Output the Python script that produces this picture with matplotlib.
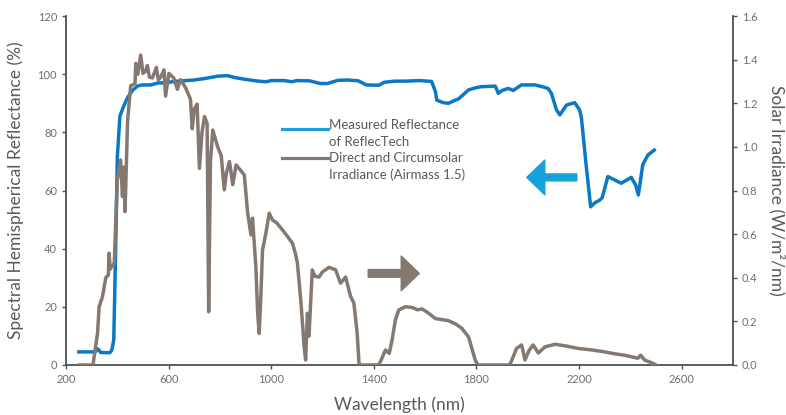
import matplotlib.pyplot as plt
from matplotlib.lines import Line2D

# Measured reflectance of ReflecTech (%)
refl_nm = [250, 300, 315, 325, 335, 370, 378, 386, 390, 395, 400, 410, 425, 440, 460,
           480, 498, 530, 560, 588, 620, 700, 740, 790, 829, 860, 900, 950, 980, 1000,
           1050, 1080, 1100, 1150, 1190, 1220, 1260, 1300, 1340, 1370, 1420, 1440, 1480,
           1520, 1580, 1625, 1640, 1645, 1670, 1691, 1710, 1730, 1769, 1800, 1819, 1873,
           1880, 1885, 1900, 1924, 1943, 1975, 2028, 2060, 2079, 2092, 2112, 2125, 2151,
           2183, 2202, 2209, 2228, 2245, 2262, 2280, 2290, 2312, 2364, 2403, 2420, 2431,
           2448, 2468, 2493]
refl_pct = [4.5, 4.5, 4.6, 5.5, 4.3, 4.2, 5.0, 8.6, 25, 47, 71.5, 85.6, 89, 92, 94.5,
            96, 96.3, 96.3, 97, 97, 97.5, 98, 98.5, 99.3, 99.5, 98.8, 98.2, 97.6, 97.4, 97.8,
            97.8, 97.4, 97.8, 97.7, 96.8, 96.8, 97.9, 98, 97.7, 96.3, 96.2, 97.2, 97.6,
            97.6, 97.8, 97.5, 94, 91.1, 90.2, 90, 90.8, 91.5, 94.6, 95.4, 95.7, 95.9,
            94.5, 93.4, 94.4, 95.1, 94.4, 96.3, 96.3, 95.6, 95.1, 93.4, 87.7, 86, 89.4,
            90.2, 87.7, 85, 68.2, 54.4, 55.8, 56.7, 57.5, 64.8, 62.5, 64.5, 62, 58.5,
            68.8, 72.2, 73.9]

# Direct and circumsolar irradiance, AM1.5 (W/m2/nm)
irr_nm = [250, 300, 305, 323, 329, 342, 355, 365, 368, 372, 388, 400, 413, 420, 425,
          430, 440, 452, 469, 472, 480, 491, 500, 510, 517, 525, 537, 552, 560, 569,
          582, 588, 601, 620, 634, 647, 666, 685, 692, 700, 711, 720, 730, 740, 750,
          756, 763, 772, 791, 805, 817, 825, 837, 850, 863, 880, 895, 908, 921, 927,
          940, 947, 953, 960, 966, 979, 992, 1005, 1020, 1044, 1065, 1083, 1095, 1102,
          1115, 1122, 1128, 1134, 1141, 1147, 1160, 1170, 1186, 1200, 1225, 1251, 1270,
          1290, 1309, 1322, 1335, 1342, 1348, 1419, 1430, 1445, 1460, 1471, 1484, 1497,
          1523, 1549, 1570, 1588, 1610, 1640, 1691, 1720, 1743, 1769, 1795, 1805, 1930,
          1956, 1976, 1989, 2005, 2021, 2041, 2067, 2106, 2150, 2196, 2250, 2300, 2340,
          2377, 2429, 2440, 2455, 2487, 2500]
irr_val = [0, 0, 0, 0.147, 0.267, 0.313, 0.40, 0.413, 0.513, 0.44, 0.467, 0.848, 0.94, 0.773, 0.907,
           0.703, 1.12, 1.28, 1.29, 1.383, 1.333, 1.421, 1.337, 1.347, 1.373, 1.32, 1.316, 1.364, 1.307, 1.32,
           1.353, 1.233, 1.337, 1.316, 1.264, 1.308, 1.271, 1.219, 1.083, 1.173, 1.196, 0.901, 1.067, 1.139, 1.107,
           0.244, 0.933, 1.077, 1.0, 0.96, 0.803, 0.88, 0.933, 0.827, 0.917, 0.893, 0.871, 0.696, 0.596, 0.673,
           0.451, 0.237, 0.145, 0.333, 0.527, 0.604, 0.696, 0.664, 0.653, 0.619, 0.587, 0.557, 0.507, 0.467,
           0.297, 0.187, 0.084, 0.023, 0.237, 0.132, 0.436, 0.407, 0.403, 0.427, 0.448, 0.436, 0.375,
           0.403, 0.315, 0.284, 0.145, 0.008, 0, 0, 0.027, 0.069, 0.053, 0.115, 0.207, 0.252,
           0.267, 0.264, 0.253, 0.257, 0.24, 0.213, 0.203, 0.187, 0.168, 0.129, 0.023, 0, 0,
           0.076, 0.092, 0.023, 0.067, 0.092, 0.055, 0.083, 0.095, 0.087, 0.076, 0.069, 0.06, 0.051,
           0.045, 0.031, 0.045, 0.023, 0.008, 0]

x_ticks = [200, 600, 1000, 1400, 1800, 2200, 2600]
left_ticks = [0, 20, 40, 60, 80, 100, 120]
right_ticks = [0.0, 0.2, 0.4, 0.6, 0.8, 1.0, 1.2, 1.4, 1.6]

blue = '#0a78c6'
brown = '#857870'
spine_col = '#4d5256'
tick_col = '#6d6e71'
label_col = '#58595b'

plt.rcParams['font.family'] = ['Lato', 'DejaVu Sans']

fig, ax = plt.subplots(figsize=(7.86, 4.15), dpi=100)
fig.subplots_adjust(left=0.084, right=0.9326, bottom=0.1205, top=0.9614)
ax2 = ax.twinx()

ax.plot(refl_nm, refl_pct, color=blue, lw=2.5, solid_joinstyle='round')
ax2.plot(irr_nm, irr_val, color=brown, lw=2.5, solid_joinstyle='round')

ax.set_xlim(200, 2800)
ax.set_ylim(0, 120)
ax2.set_ylim(0, 1.6)
ax.set_xticks(x_ticks)
ax.set_yticks(left_ticks)
ax2.set_yticks(right_ticks)
ax2.set_yticklabels([f'{v:.1f}' for v in right_ticks])

for a in (ax, ax2):
    a.spines['top'].set_visible(False)
    for s in ('left', 'right', 'bottom'):
        a.spines[s].set_color(spine_col)
        a.spines[s].set_linewidth(1.3)
    a.tick_params(colors=spine_col, labelcolor=tick_col, labelsize=8, length=3, width=1)
ax.spines['right'].set_visible(False)
ax2.spines['left'].set_visible(False)
ax2.spines['bottom'].set_visible(False)

ax.set_xlabel('Wavelength (nm)', fontsize=12.5, color=label_col, labelpad=8)
ax.set_ylabel('Spectral Hemispherical Reflectance (%)', fontsize=12.5, color=label_col, labelpad=10)
ax2.set_ylabel('Solar Irradiance (W/m²/nm)', fontsize=12.5, color=label_col,
               rotation=270, labelpad=20)

# legend drawn by hand
ax.add_line(Line2D([0.324, 0.393], [0.676, 0.676], transform=ax.transAxes, color='#1e9fdc', lw=2.3))
ax.add_line(Line2D([0.324, 0.393], [0.594, 0.594], transform=ax.transAxes, color=brown, lw=2.3))
legend_lines = ['Measured Reflectance', 'of ReflecTech', 'Direct and Circumsolar', 'Irradiance (Airmass 1.5)']
for i, t in enumerate(legend_lines):
    ax.text(0.394, 0.688 - i * 0.048, t, transform=ax.transAxes, fontsize=9.5,
            color=label_col, va='center', ha='left')

# arrows
ax.annotate('', xy=(1996, 64.5), xytext=(2191, 64.5),
            arrowprops=dict(arrowstyle='simple,head_width=25,head_length=13,tail_width=5',
                            color='#14a2dd', mutation_scale=1, shrinkA=0, shrinkB=0))
ax.annotate('', xy=(1577, 31.5), xytext=(1378, 31.5),
            arrowprops=dict(arrowstyle='simple,head_width=25,head_length=13,tail_width=5.5',
                            color=brown, mutation_scale=1, shrinkA=0, shrinkB=0))

fig.savefig('out.png', dpi=100)
